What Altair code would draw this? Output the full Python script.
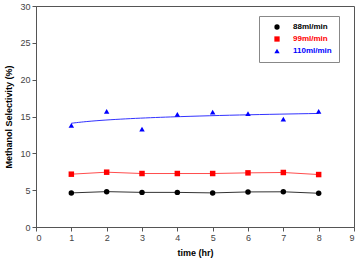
import altair as alt
import pandas as pd

# Sampling times (hr)
times = [1, 2, 3, 4, 5, 6, 7, 8]

# Methanol selectivity (%) for each feed flow rate
sel_88 = [4.63, 4.80, 4.70, 4.70, 4.63, 4.76, 4.78, 4.58]
sel_99 = [7.17, 7.44, 7.26, 7.26, 7.26, 7.35, 7.40, 7.12]
sel_110 = [13.8, 15.7, 13.3, 15.3, 15.6, 15.4, 14.65, 15.7]

series_names = ["88ml/min", "99ml/min", "110ml/min"]
series_colors = ["#000000", "#ff0000", "#0000ff"]
line_colors = ["#333333", "#ff4d4d", "#3333ff"]
series_shapes = ["circle", "square", "triangle-up"]

x_ticks = list(range(0, 10))
y_ticks = list(range(0, 31, 5))

rows = []
for name, vals in zip(series_names, [sel_88, sel_99, sel_110]):
    for t, v in zip(times, vals):
        rows.append({"time": t, "sel": v, "series": name})
df = pd.DataFrame(rows)

FONT = "Liberation Sans"

x_enc = alt.X(
    "time:Q",
    scale=alt.Scale(domain=[0, 9], nice=False),
    axis=alt.Axis(values=x_ticks, title="time (hr)", format="d"),
)
y_enc = alt.Y(
    "sel:Q",
    scale=alt.Scale(domain=[0, 30], nice=False),
    axis=alt.Axis(values=y_ticks, title="Methanol Selectivity (%)"),
)

base = alt.Chart(df)

# Connected lines for the two lower flow rates
lines = base.transform_filter(
    alt.FieldOneOfPredicate(field="series", oneOf=series_names[:2])
).mark_line(strokeWidth=1).encode(
    x=x_enc,
    y=y_enc,
    stroke=alt.Stroke(
        "series:N",
        scale=alt.Scale(domain=series_names, range=line_colors),
        legend=None,
    ),
)

# Logarithmic trend line for the 110 ml/min series
trend = base.transform_filter(
    alt.datum.series == series_names[2]
).transform_regression(
    "time", "sel", method="log", extent=[1, 8]
).mark_line(strokeWidth=1, color=line_colors[2]).encode(
    x=x_enc,
    y=y_enc,
)

# Legend labels take the colour of their series
label_color_expr = (
    "datum.label == '99ml/min' ? '#ff0000' : "
    "(datum.label == '110ml/min' ? '#0000ff' : '#000000')"
)

legend = alt.Legend(
    title=None,
    orient="none",
    legendX=223,
    legendY=10,
    strokeColor="#888888",
    fillColor="white",
    padding=7,
    labelFont=FONT,
    labelFontWeight="bold",
    labelFontSize=8,
    labelColor=alt.ExprRef(label_color_expr),
    symbolSize=28,
    rowPadding=4,
    labelOffset=12,
    symbolOffset=7,
)

points = base.mark_point(filled=True, size=30, opacity=1).encode(
    x=x_enc,
    y=y_enc,
    color=alt.Color(
        "series:N",
        scale=alt.Scale(domain=series_names, range=series_colors),
        legend=legend,
    ),
    shape=alt.Shape(
        "series:N",
        scale=alt.Scale(domain=series_names, range=series_shapes),
        legend=legend,
    ),
)

chart = alt.layer(lines, trend, points).resolve_legend(
    stroke="independent"
).properties(
    width=318,
    height=221,
    autosize=alt.AutoSizeParams(type="none"),
    padding={"left": 36, "top": 6, "right": 3, "bottom": 32},
).configure_view(
    stroke="#555555",
    strokeWidth=1,
).configure_axis(
    grid=False,
    domainColor="#555555",
    tickColor="#555555",
    tickSize=4,
    labelFont=FONT,
    labelFontSize=9,
    labelColor="#444444",
    titleFont=FONT,
    titleFontSize=9,
    titleFontWeight="bold",
    titleColor="#000000",
).configure_axisY(
    titlePadding=6,
).configure_axisX(
    titlePadding=6,
)

chart.save("out.html", embed_options={"renderer": "svg", "actions": False})
